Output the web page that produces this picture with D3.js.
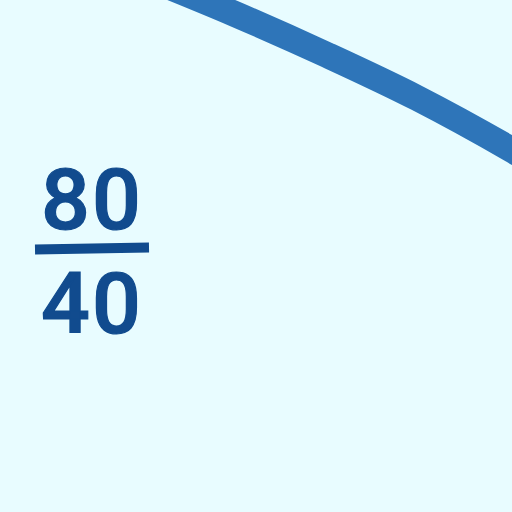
<!DOCTYPE html>
<html>
<head>
<meta charset="utf-8">
<script src="https://cdn.jsdelivr.net/npm/d3@7"></script>
<style>
html, body { margin: 0; padding: 0; background: #e8fcff; }
</style>
</head>
<body>
<div id="chart-area"></div>
<script>
// values
const curveX = [0, 20.8, 46.4, 71.4, 97.8, 100];
const curveY = [93.5, 78, 57.5, 36, 10, 7.6];
const tickLabels = ["80", "40"];

const width = 512, height = 512;

const svg = d3.select("#chart-area")
    .append("svg")
    .attr("width", width)
    .attr("height", height)
    .style("display", "block");

svg.append("rect")
    .attr("width", width)
    .attr("height", height)
    .attr("fill", "#e8fcff");

const x = d3.scaleLinear().domain([0, 100]).range([160, 520]);
const y = d3.scaleLinear().domain([0, 100]).range([170, -30]);

const line = d3.line()
    .x(function (d) { return x(d[0]); })
    .y(function (d) { return y(d[1]); })
    .curve(d3.curveCatmullRom);

svg.append("path")
    .datum(curveX.map(function (d, i) { return [d, curveY[i]]; }))
    .attr("fill", "none")
    .attr("stroke", "#2e75b9")
    .attr("stroke-width", 26)
    .attr("d", line);

// FRACTION LABEL
svg.selectAll("text.frac")
    .data(tickLabels)
    .enter()
    .append("text")
    .attr("class", "frac")
    .attr("x", 92)
    .attr("y", function (d, i) { return i === 0 ? 229 : 333; })
    .attr("text-anchor", "middle")
    .attr("font-family", "Roboto, sans-serif")
    .attr("font-weight", "500")
    .attr("font-size", "86px")
    .attr("letter-spacing", "2px")
    .attr("fill", "#114b8e")
    .attr("stroke", "#114b8e")
    .attr("stroke-width", 1.2)
    .text(function (d) { return d; });

svg.append("line")
    .attr("x1", 35)
    .attr("x2", 149)
    .attr("y1", 249.5)
    .attr("y2", 247.5)
    .attr("stroke", "#114b8e")
    .attr("stroke-width", 10);
</script>
</body>
</html>
